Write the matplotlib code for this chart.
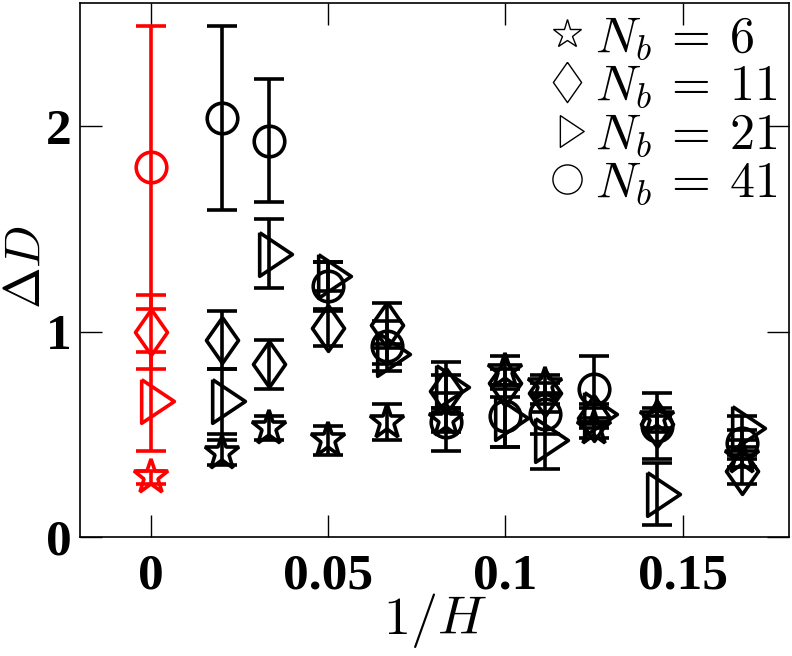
import matplotlib
matplotlib.use('Agg')
import matplotlib.pyplot as plt
from matplotlib.lines import Line2D

plt.rcParams['mathtext.fontset'] = 'cm'

# 1/H positions
x_inf = [0.0]
x_vals = [1/50, 1/30, 1/20, 1/15, 1/12, 1/10, 1/9, 1/8, 1/7, 1/6]

# extrapolated values at 1/H = 0 (red)
inf_nb6 = [0.29]
inf_nb6_err = [0.03]
inf_nb11 = [1.00]
inf_nb11_err = [0.18]
inf_nb21 = [0.66]
inf_nb21_err = [0.24]
inf_nb41 = [1.80]
inf_nb41_err = [0.69]

# finite H data
nb6 = [0.41, 0.53, 0.47, 0.56, 0.57, 0.81, 0.74, 0.53, 0.58, 0.39]
nb6_err = [0.06, 0.06, 0.07, 0.09, 0.06, 0.07, 0.05, 0.05, 0.05, 0.05]
nb11 = [0.96, 0.84, 1.02, 1.03, 0.71, 0.75, 0.70, 0.58, 0.55, 0.32]
nb11_err = [0.14, 0.12, 0.09, 0.11, 0.08, 0.07, 0.05, 0.05, 0.04, 0.06]
nb21 = [0.66, 1.38, 1.27, 0.89, 0.73, 0.58, 0.47, 0.60, 0.21, 0.53]
nb21_err = [0.16, 0.17, 0.07, 0.05, 0.12, 0.14, 0.14, 0.05, 0.15, 0.06]
nb41 = [2.04, 1.93, 1.22, 0.93, 0.56, 0.59, 0.60, 0.72, 0.54, 0.46]
nb41_err = [0.45, 0.30, 0.12, 0.12, 0.14, 0.15, 0.10, 0.16, 0.16, 0.06]

labels = [r'$N_b\:=\:6$', r'$N_b\:=\:11$', r'$N_b\:=\:21$', r'$N_b\:=\:41$']

# narrow diamond and right triangle like the original symbols
diamond = [(0, 1), (0.7, 0), (0, -1), (-0.7, 0), (0, 1)]
triangle = [(-0.45, 1), (1.05, 0), (-0.45, -1), (-0.45, 1)]
markers = ['*', diamond, triangle, 'o']
sizes = [26, 33, 33, 22]

fig = plt.figure(figsize=(7.92, 6.56), dpi=100)
ax = fig.add_axes([80/792, 1 - 537/656, 709/792, 534/656])

series = [(nb6, nb6_err, inf_nb6, inf_nb6_err),
          (nb11, nb11_err, inf_nb11, inf_nb11_err),
          (nb21, nb21_err, inf_nb21, inf_nb21_err),
          (nb41, nb41_err, inf_nb41, inf_nb41_err)]

for (y, e, yi, ei), m, s in zip(series, markers, sizes):
    for xs, ys, es, c in [(x_vals, y, e, 'black'), (x_inf, yi, ei, 'red')]:
        ax.errorbar(xs, ys, yerr=es, fmt='none', ecolor=c,
                    elinewidth=2.6, capsize=11, capthick=2.6)
        ax.plot(xs, ys, ls='none', marker=m, mfc='none', mec=c,
                ms=s, mew=2.6)

leg_sizes = [21, 29, 24, 21]
handles = [Line2D([], [], ls='none', marker=m, color='black', mfc='none',
                  ms=s, mew=1.0) for m, s in zip(markers, leg_sizes)]
ax.legend(handles, labels, loc='upper right', frameon=False, fontsize=36,
          handletextpad=0.05, labelspacing=0.0, borderaxespad=0.0,
          handlelength=1.0, borderpad=0.1, bbox_to_anchor=(0.99, 0.99))

ax.set_xlim(-0.02, 0.18)
ax.set_ylim(0, 2.6)
ax.set_xticks([0, 0.05, 0.1, 0.15])
ax.set_xticklabels(['0', '0.05', '0.1', '0.15'])
ax.set_yticks([0, 1, 2])
ax.set_yticklabels(['0', '1', '2'])
ax.tick_params(direction='in', length=16, width=1, top=True, right=True,
               labelsize=37, pad=6)
ax.tick_params(axis='x', pad=12)
for lab in ax.get_xticklabels() + ax.get_yticklabels():
    lab.set_fontfamily('Liberation Serif')
    lab.set_fontweight('bold')
for sp in ax.spines.values():
    sp.set_linewidth(1.2)

ax.set_xlabel(r'$1/H$', fontsize=39, labelpad=-6)
ax.set_ylabel(r'$\Delta D$', fontsize=36)
ax.yaxis.set_label_coords(-0.042, 0.506)

fig.savefig('out.png', dpi=100)
